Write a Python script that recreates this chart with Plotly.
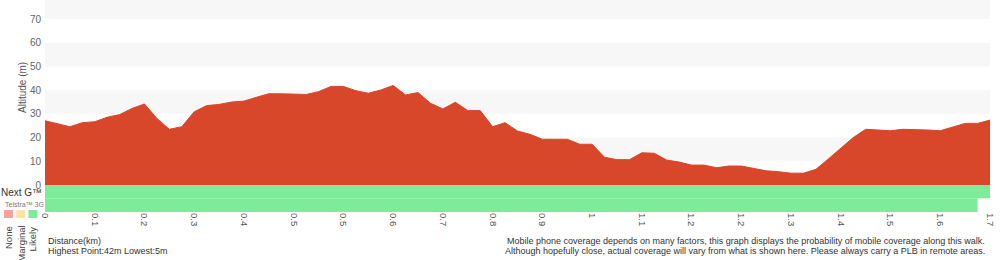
import plotly.graph_objects as go

# ---------------- data ----------------
elevation_m = [27.1, 25.8, 24.6, 26.3, 26.7, 28.6, 29.7, 32.3, 34.2, 28.1,
               23.5, 24.6, 30.9, 33.5, 34.0, 35.0, 35.4, 37.0, 38.5, 38.5,
               38.2, 38.2, 39.4, 41.6, 41.6, 39.8, 38.7, 40.1, 42.0, 38.0,
               39.0, 34.5, 32.1, 34.9, 31.4, 31.4, 24.6, 26.3, 22.8, 21.4,
               19.3, 19.3, 19.3, 17.2, 17.2, 11.7, 10.7, 10.7, 13.6, 13.4,
               10.5, 9.7, 8.4, 8.4, 7.3, 8.0, 8.0, 7.0, 6.0, 5.6,
               5.0, 5.0, 6.6, 11.0, 15.5, 20.0, 23.5, 23.2, 22.9, 23.5,
               23.5, 23.2, 22.9, 24.5, 26.0, 26.0, 27.4]
point_index = list(range(len(elevation_m)))

tick_labels = ["0", "0.1", "0.2", "0.3", "0.4", "0.5", "0.5", "0.6", "0.7", "0.8",
               "0.9", "1", "1.1", "1.2", "1.2", "1.3", "1.4", "1.5", "1.6", "1.7"]
tick_every = 4

y_ticks = [0, 10, 20, 30, 40, 50, 60, 70]

# coverage runs: (start point, end point, status)
next_g_runs = [(0, 76, "Likely")]
telstra_3g_runs = [(0, 75, "Likely")]

coverage_colors = {"None": "#ff9e9e", "Marginal": "#ffe3a6", "Likely": "#7deb9a"}
legend_items = ["None", "Marginal", "Likely"]

# ---------------- layout helpers ----------------
W, H = 1000, 260
ML, MR, MT, MB = 45, 10, 0, 48
PW, PH = W - ML - MR, H - MT - MB
Y_MIN, Y_MAX = -11.39, 78.06
ROW_SPLIT = -5.6
FONT = "Liberation Sans, Arial, Helvetica, sans-serif"


def px(x):
    return (x - ML) / PW


def py(y):
    return (MT + PH - y) / PH


fig = go.Figure()

# elevation area
fig.add_trace(go.Scatter(
    x=point_index, y=elevation_m, mode="lines",
    line=dict(color="#d9472a", width=1), fill="tozeroy",
    fillcolor="#d9472a", hoverinfo="skip", showlegend=False))

# coverage rows
for runs, (top, bot) in [(next_g_runs, (0, ROW_SPLIT)), (telstra_3g_runs, (ROW_SPLIT, Y_MIN))]:
    for a, b, status in runs:
        fig.add_trace(go.Scatter(
            x=[a, b, b, a, a], y=[top, top, bot, bot, top], mode="lines",
            line=dict(width=0), fill="toself",
            fillcolor=coverage_colors[status], hoverinfo="skip", showlegend=False))

shapes = []
# alternating bands
for lo, hi in [(10, 20), (30, 40), (50, 60), (70, Y_MAX)]:
    shapes.append(dict(type="rect", xref="paper", yref="y", x0=0, x1=1, y0=lo, y1=hi,
                       fillcolor="#f7f7f7", line=dict(width=0), layer="below"))
# legend squares
for i, name in enumerate(legend_items):
    x0 = 4 + i * 12.2
    shapes.append(dict(type="rect", xref="paper", yref="paper",
                       x0=px(x0), x1=px(x0 + 9), y0=py(218), y1=py(210),
                       fillcolor=coverage_colors[name], line=dict(width=0)))

annotations = [
    dict(text="Altitude (m)", textangle=-90, xref="paper", yref="paper",
         x=px(22), y=py(88), xanchor="center", yanchor="middle",
         showarrow=False, font=dict(size=10, color="#555")),
    dict(text="Next G™", xref="paper", yref="paper", x=px(-1), y=py(192),
         xanchor="left", yanchor="middle", showarrow=False,
         font=dict(size=10, color="#333")),
    dict(text="Telstra™ 3G", xref="paper", yref="paper", x=px(3), y=py(204),
         xanchor="left", yanchor="middle", showarrow=False,
         font=dict(size=7, color="#777")),
    dict(text="Distance(km)", xref="paper", yref="paper", x=px(46), y=py(241),
         xanchor="left", yanchor="middle", showarrow=False,
         font=dict(size=9, color="#333")),
    dict(text="Highest Point:42m Lowest:5m", xref="paper", yref="paper", x=px(46), y=py(251),
         xanchor="left", yanchor="middle", showarrow=False,
         font=dict(size=9, color="#333")),
    dict(text="Mobile phone coverage depends on many factors, this graph displays the probability of mobile coverage along this walk.",
         xref="paper", yref="paper", x=px(987), y=py(241),
         xanchor="right", yanchor="middle", showarrow=False,
         font=dict(size=9, color="#333")),
    dict(text="Although hopefully close, actual coverage will vary from what is shown here. Please always carry a PLB in remote areas.",
         xref="paper", yref="paper", x=px(987), y=py(251),
         xanchor="right", yanchor="middle", showarrow=False,
         font=dict(size=9, color="#333")),
]
for i, name in enumerate(legend_items):
    annotations.append(dict(text=name, textangle=-90, xref="paper", yref="paper",
                            x=px(8.5 + i * 12.2), y=py(224), xanchor="center", yanchor="top",
                            showarrow=False, font=dict(size=9.5, color="#444")))

fig.update_layout(
    width=W, height=H,
    margin=dict(l=ML, r=MR, t=MT, b=MB, pad=0),
    paper_bgcolor="white", plot_bgcolor="white",
    font=dict(family=FONT, color="#555"),
    showlegend=False,
    shapes=shapes, annotations=annotations,
    xaxis=dict(range=[0, len(elevation_m) - 1],
               tickvals=[i * tick_every for i in range(len(tick_labels))],
               ticktext=tick_labels, tickangle=90,
               tickfont=dict(size=9.5, color="#555", family=FONT),
               showgrid=False, zeroline=False, showline=False, ticks=""),
    yaxis=dict(range=[Y_MIN, Y_MAX], tickvals=y_ticks,
               tickfont=dict(size=10, color="#666", family=FONT),
               ticklabelstandoff=3,
               showgrid=False, zeroline=False, showline=False, ticks=""),
)

fig.write_html("out.html")
